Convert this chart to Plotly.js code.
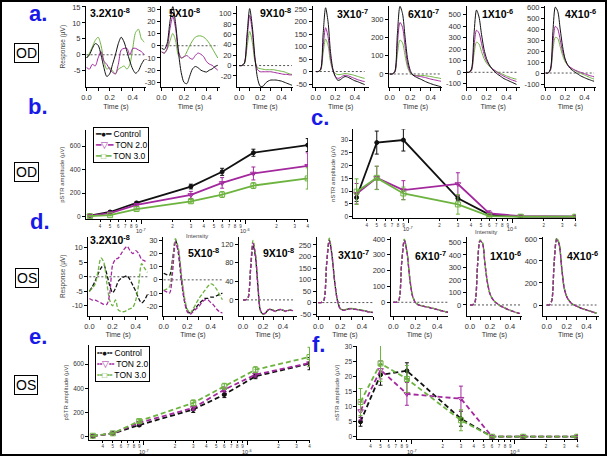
<!DOCTYPE html>
<html><head><meta charset="utf-8">
<script src="https://cdn.plot.ly/plotly-3.0.1.min.js"></script>
<style>html,body{margin:0;padding:0;background:#fff}#chart{width:608px;height:457px}</style>
</head><body><div id="chart"></div>
<script>
// ---------------- DATA ----------------
const timeS = [0,0.025,0.05,0.075,0.1,0.125,0.15,0.175,0.2,0.225,0.25,0.275,0.3,0.325,0.35,0.375,0.4,0.425,0.45,0.475,0.5];
const groups = ['Control','TON 2.0','TON 3.0'];
const stimLabels = ['3.2X10<sup>-8</sup>','5X10<sup>-8</sup>','9X10<sup>-8</sup>','3X10<sup>-7</sup>','6X10<sup>-7</sup>','1X10<sup>-6</sup>','4X10<sup>-6</sup>'];
const intensity = [3.2e-8,5e-8,9e-8,3e-7,6e-7,1.2e-6,4e-6];

// OD responses (µV), one row per stimulus intensity
const odCtrl = [
 [-1,0,2,3.5,3,0,-4,-6.8,-6,-3,0,3.5,5.5,4,1,-2,-4.5,-5.8,-5,-3,-1.5],
 [-2,-3,2,20,32,18,-5,-22,-30,-31,-25,-19,-17,-18,-20,-21,-21.5,-20,-19,-17,-16],
 [0,0,5,60,110,75,15,-25,-40,-40,-34,-30,-28,-28,-28,-29,-30,-32,-34,-36,-38],
 [0,0,10,150,255,200,80,10,-20,-35,-33,-25,-20,-22,-27,-32,-37,-40,-44,-48,-52],
 [0,0,15,220,370,330,200,80,20,-5,-15,-22,-28,-35,-42,-48,-53,-58,-62,-66,-70],
 [0,0,30,330,540,480,330,200,120,70,35,10,-10,-25,-40,-55,-65,-75,-85,-95,-105],
 [0,0,40,380,600,560,400,240,130,75,45,25,10,-5,-20,-32,-42,-52,-60,-68,-75]
];
const odTon2 = [
 [-4,-4.5,-3,-3.5,-1,1,-2,-3,-4.5,-5.5,-6,-3,1.5,2,2,0,2,2,1.5,1,0],
 [-5,-6,-2,14,24,14,-4,-10,-9,-8,-10,-11,-8,-6,-7,-9,-13,-15,-16,-18,-20],
 [0,0,5,50,97,65,12,-8,-12,-12,-12,-12,-12,-13,-14,-15,-16,-17,-17,-18,-18],
 [0,0,8,100,175,140,55,5,-20,-27,-25,-18,-15,-16,-20,-24,-28,-32,-35,-38,-40],
 [0,0,10,165,282,255,150,55,10,-5,-10,-12,-14,-17,-20,-24,-28,-31,-34,-37,-40],
 [0,0,20,220,365,340,250,160,100,65,40,20,5,-10,-22,-35,-45,-55,-65,-72,-80],
 [0,0,30,270,425,400,300,195,125,80,55,40,28,18,10,2,-6,-14,-22,-28,-35]
];
const odTon3 = [
 [-1,0.5,2.5,4.5,5.5,3,-2,-4.5,-4,-5,-6,-4.5,-4,-3.5,-4.5,-3,2,7,8,5,4],
 [-5,-6,-3,4,10,4,-8,-10,-9,-5,0,4,7,8,8,7,5,2,-2,-6,-10],
 [0,0,3,35,66,45,8,-4,-6,-7,-8,-8,-8,-8,-9,-10,-11,-12,-14,-16,-17],
 [0,0,5,75,130,105,40,5,-8,-12,-12,-10,-8,-9,-11,-13,-16,-19,-22,-25,-27],
 [0,0,8,110,186,170,100,35,5,-5,-8,-8,-8,-8,-10,-12,-14,-17,-20,-22,-25],
 [0,0,15,160,262,245,180,120,80,55,35,20,8,-3,-12,-22,-32,-40,-48,-55,-60],
 [0,0,25,210,325,315,240,160,105,75,55,38,25,12,2,-8,-18,-28,-38,-47,-55]
];

// OS responses (µV)
const osCtrl = [
 [-5,-3.5,-1.5,1,3,4,1,-3,-5.5,-4,-1.5,-0.5,0,0.3,-1,-3,-5,-7.5,-9,-8,-6],
 [5,4,3.5,15,30,20,0,-15,-23,-25,-23,-21,-18,-16,-14,-14,-13,-13,-12,-11,-10],
 [0,0,4,62,118,92,25,-24,-30,-28,-22,-21,-22,-24,-22,-21,-22,-24,-23,-22,-23],
 [0,0,9,165,272,205,88,9,-26,-33,-31,-27,-26,-28,-30,-32,-34,-36,-39,-41,-43],
 [0,0,13,245,395,315,148,39,-1,-15,-21,-25,-29,-33,-37,-41,-46,-51,-55,-60,-63],
 [0,0,24,315,515,495,325,178,88,48,24,9,-6,-16,-26,-35,-43,-50,-57,-63,-68],
 [0,0,38,390,600,555,345,158,79,39,14,0,-10,-20,-30,-38,-45,-52,-60,-67,-73]
];
const osTon2 = [
 [-7.5,-8,-8,-8.5,-9,-9.5,-9.5,-6,4,6,6.5,8,9.5,10.5,9,8,9,8,6,5.5,5],
 [-8,-9,-10,5,28,22,2,-15,-24,-26,-24,-22,-20,-17,-15,-15,-17,-19,-22,-24,-25],
 [0,0,4,65,122,95,28,-22,-30,-28,-22,-20,-23,-24,-21,-21,-23,-24,-22,-22,-23],
 [0,0,8,160,268,200,85,8,-27,-34,-32,-28,-27,-29,-31,-33,-35,-37,-40,-42,-44],
 [0,0,12,240,390,310,145,38,-2,-16,-22,-26,-30,-34,-38,-42,-47,-52,-56,-60,-64],
 [0,0,24,310,510,490,322,176,87,48,24,9,-6,-16,-26,-35,-43,-50,-57,-63,-68],
 [0,0,35,380,590,545,340,155,78,38,14,0,-10,-20,-30,-38,-45,-52,-60,-67,-73]
];
const osTon3 = [
 [-5,-4,-2.5,2,6.5,5,-2,-8,-10,-8,-11.5,-12,-12,-11.5,-11,-10.5,-8,-2.5,4.5,3,1.5],
 [-8,-7,-5,12,31,24,5,-12,-22,-25,-22,-18,-14,-11,-8,-5,-3,-4,-7,-11,-15],
 [0,0,5,70,128,100,30,-25,-31,-29,-22,-20,-22,-25,-22,-20,-22,-25,-23,-22,-24],
 [0,0,10,170,280,210,90,10,-25,-32,-30,-26,-25,-27,-30,-32,-33,-35,-38,-40,-42],
 [0,0,15,250,400,320,150,40,0,-15,-20,-25,-28,-32,-36,-40,-45,-50,-55,-60,-63],
 [0,0,25,320,520,500,330,180,90,50,25,10,-5,-15,-25,-35,-42,-50,-57,-63,-68],
 [0,0,40,400,610,560,350,160,80,40,15,0,-10,-20,-30,-38,-45,-52,-60,-67,-73]
];

// amplitudes vs intensity
const pstrOdCtrl = [9,40,117,256,381,543,608],  pstrOdCtrlErr = [5,8,10,20,30,30,55];
const pstrOdTon2 = [8,30,100,185,287,367,432],  pstrOdTon2Err = [5,8,12,30,45,55,110];
const pstrOdTon3 = [5,13,65,131,188,264,325],   pstrOdTon3Err = [5,6,8,15,25,25,90];
const nstrOdCtrl = [7.5,29,30,7.2,0.8,0,0],     nstrOdCtrlErr = [1.5,4.5,4.3,1,0.5,0,0];
const nstrOdTon2 = [9,15.2,10.4,12.8,1.3,0.2,0], nstrOdTon2Err = [4,4.5,3.7,4.4,1,0.2,0];
const nstrOdTon3 = [9.8,15.2,9.1,4.8,0.2,0,0],  nstrOdTon3Err = [5,4.6,2.5,3.8,0.3,0,0];
const pstrOsCtrl = [5,27,96,225,348,499,603],   pstrOsCtrlErr = [3,5,10,25,25,20,50];
const pstrOsTon2 = [5,27,115,238,389,512,608],  pstrOsTon2Err = [3,5,10,20,20,20,30];
const pstrOsTon3 = [8,28,129,279,416,553,658],  pstrOsTon3Err = [3,5,12,25,25,25,80];
const nstrOsCtrl = [5,20.7,22,6,0,0,0],         nstrOsCtrlErr = [1.5,3.5,2.7,2.5,0,0,0];
const nstrOsTon2 = [8.6,22.3,14.3,12.7,0,0,0],  nstrOsTon2Err = [3,3,3.8,4.2,0,0,0];
const nstrOsTon3 = [11.6,24.5,19.3,5.5,0,0,0],  nstrOsTon3Err = [4.5,6,4.5,3.5,0,0,0];

// tick labels
const odYTicks = [[-5,0,5,10,15],[-30,-20,-10,0,10,20,30],[-20,0,20,40,60,80,100],[-50,0,50,100,150,200,250],[0,100,200,300],[-100,0,100,200,300,400,500],[-100,0,100,200,300,400,500,600]];
const osYTicks = [[-10,-5,0,5,10],[-20,-10,0,10,20,30],[0,40,80,120],[-50,0,50,100,150,200,250],[0,100,200,300,400],[0,100,200,300,400,500],[0,200,400,600]];
const intTickVals = [4e-8,5e-8,6e-8,7e-8,8e-8,9e-8,2e-7,3e-7,4e-7,5e-7,6e-7,7e-7,8e-7,9e-7,2e-6,3e-6,4e-6];
const intTickText = ['4','5','6','7','8','9','2','3','4','5','6','7','8','9','2','3','4'];
const decadeVals = [1e-7,1e-6];
const decadeText = ['10<sup>-7</sup>','10<sup>-6</sup>'];
const pstrTicks = [0,200,400,600];
const nstrTicks = [0,5,10,15,20,25,30];

// ---------------- LAYOUT ----------------
const W = 608, H = 457;
const fam = '"Liberation Sans", Arial, sans-serif';
const COL = ['#111111','#a3289e','#6db33f'];
const BLUE = '#1a1ae8';

const rowAX  = [[86,146],[161,220],[237,293],[312.5,369],[389,442],[466.5,520],[545,596]];
const rowAXR = [[-0.005,0.515],[-0.005,0.52],[-0.02,0.51],[-0.034,0.545],[-0.007,0.51],[0,0.535],[-0.007,0.52]];
const rowAYR = [[-10.2,15.3],[-34,32.5],[-42,115],[-63,262],[-73,372],[-130,575],[-130,610]];
const rowATitle = [[110,12.5],[184,12.5],[275,12.5],[352,13],[424,13],[497,13],[580,13]];
const rowDX  = [[88.3,148],[163,223],[239,297],[316.7,373],[390.7,448],[466.7,522],[542.7,598.5]];
const rowDXR = [[-0.009,0.505],[-0.006,0.505],[-0.04,0.54],[-0.015,0.5],[-0.024,0.497],[-0.033,0.52],[-0.04,0.52]];
const rowDYR = [[-13.4,13.8],[-27,32.5],[-34,136],[-57,286],[-85,415],[-86,546],[-97,620]];
const rowDTitle = [[110,240],[203.5,252],[278,253],[353.5,254],[430,255],[505,255],[582.5,255]];

const layout = {width:W,height:H,margin:{l:0,r:0,t:0,b:0},paper_bgcolor:'#fff',plot_bgcolor:'rgba(0,0,0,0)',
  showlegend:false,font:{family:fam,size:7,color:'#333'},annotations:[],shapes:[]};
const data = [];

function xdom(p){return [p[0]/W,p[1]/W];}
function ydom(t,b){return [1-b/H,1-t/H];}
function baseAxis(fs){return {showline:true,linecolor:'#000',linewidth:1,ticks:'outside',ticklen:3,tickwidth:1,tickcolor:'#000',
  showgrid:false,zeroline:false,fixedrange:true,tickfont:{size:fs,family:fam,color:'#333'}};}
function addAxes(i,xp,yp,xopt,yopt,fs){
  const s = i===1?'':String(i);
  layout['xaxis'+s] = Object.assign(baseAxis(fs),{domain:xdom(xp),anchor:'y'+s},xopt);
  layout['yaxis'+s] = Object.assign(baseAxis(fs),{domain:ydom(yp[0],yp[1]),anchor:'x'+s},yopt);
  return s;
}
function ann(px,py,text,font,extra){
  layout.annotations.push(Object.assign({x:px/W,y:1-py/H,xref:'paper',yref:'paper',text:text,showarrow:false,
    xanchor:'center',yanchor:'middle',font:Object.assign({family:fam},font)},extra||{}));
}

function wavePanel(i,k,xp,yp,xr,yr,yticks,sets,dashed,titlePos,ytitle){
  const yopt = {range:yr,tickmode:'array',tickvals:yticks,ticktext:yticks.map(String)};
  if(ytitle) yopt.title = {text:ytitle,font:{size:6.5,color:'#444'},standoff:5};
  const s = addAxes(i,xp,yp,
    {range:xr,tickmode:'linear',tick0:0,dtick:0.2,tickformat:'.1f',
     minor:{tick0:0,dtick:0.1,ticks:'outside',ticklen:3,tickwidth:1,tickcolor:'#000'},
     title:{text:'Time (s)',font:{size:7,color:'#333'},standoff:2}},yopt,7.5);
  layout.shapes.push({type:'line',xref:'x'+s,yref:'y'+s,x0:0,x1:0.5,y0:0,y1:0,layer:'below',line:{color:'#555',width:1,dash:'2px,2px'}});
  const order = dashed ? [0,2,1] : [2,1,0];
  order.forEach(g=>{
    data.push({x:timeS,y:sets[g][k],xaxis:'x'+s,yaxis:'y'+s,mode:'lines',name:groups[g],hoverinfo:'skip',
      line:{color:COL[g],width:dashed?1.3:1,shape:'spline',smoothing:0.8,dash:dashed?'4px,2px':'solid'}});
  });
  ann(titlePos[0],titlePos[1],stimLabels[k],{size:10.5,color:'#000',weight:'bold'});
}

for(let k=0;k<7;k++){
  wavePanel(k+1,k,rowAX[k],[6,87.3],rowAXR[k],rowAYR[k],odYTicks[k],[odCtrl,odTon2,odTon3],false,rowATitle[k],k===0?'Response (µV)':null);
  wavePanel(k+10,k,rowDX[k],[236.7,315.7],rowDXR[k],rowDYR[k],osYTicks[k],[osCtrl,osTon2,osTon3],true,rowDTitle[k],k===0?'Response (µV)':null);
}

const symbols = ['circle','triangle-down-open','square-open'];
function ampPanel(i,xp,yp,xr,yr,yticks,ytitle,series,dashed,decadeY){
  const s = addAxes(i,xp,yp,
    {type:'log',range:xr,tickmode:'array',tickvals:intTickVals,ticktext:intTickText,ticklen:2,tickfont:{size:4.5,family:fam,color:'#333'},
     minor:{tickmode:'array',tickvals:decadeVals,ticks:'outside',ticklen:4,tickwidth:1,tickcolor:'#000'}},
    {range:yr,tickmode:'array',tickvals:yticks,ticktext:yticks.map(String),tickfont:{size:6.5,family:fam,color:'#333'},
     title:{text:ytitle,font:{size:6,color:'#444'},standoff:4}},6.5);
  series.forEach((sr,g)=>{
    data.push({x:intensity,y:sr[0],xaxis:'x'+s,yaxis:'y'+s,mode:'lines+markers',name:groups[g],hoverinfo:'skip',
      line:{color:COL[g],width:1.8,dash:dashed?'5px,3px':'solid'},
      marker:{symbol:symbols[g],size:g===0?4:5,color:COL[g],line:{color:COL[g],width:1}},
      error_y:{type:'data',array:sr[1],visible:true,color:COL[g],thickness:1,width:2}});
  });
  decadeVals.forEach((v,j)=>{
    layout.annotations.push({x:Math.log10(v),xref:'x'+s,y:1-decadeY/H,yref:'paper',text:decadeText[j],showarrow:false,
      xanchor:'center',yanchor:'middle',font:{family:fam,size:5.5,color:'#333'}});
  });
}
ampPanel(8,[86,308],[130,219.3],[-7.533,-5.395],[-22,736],pstrTicks,'pSTR amplitude (µV)',
  [[pstrOdCtrl,pstrOdCtrlErr],[pstrOdTon2,pstrOdTon2Err],[pstrOdTon3,pstrOdTon3Err]],false,230.5);
ampPanel(9,[353.3,575.5],[129.3,218.3],[-7.526,-5.395],[-0.63,34.2],nstrTicks,'nSTR amplitude (µV)',
  [[nstrOdCtrl,nstrOdCtrlErr],[nstrOdTon2,nstrOdTon2Err],[nstrOdTon3,nstrOdTon3Err]],false,229.5);
ampPanel(17,[89.3,310],[345,440],[-7.529,-5.393],[-27,757],pstrTicks,'pSTR amplitude (µV)',
  [[pstrOsCtrl,pstrOsCtrlErr],[pstrOsTon2,pstrOsTon2Err],[pstrOsTon3,pstrOsTon3Err]],true,451.5);
ampPanel(18,[357.3,578],[346,439.3],[-7.526,-5.39],[-0.86,30.3],nstrTicks,'nSTR amplitude (µV)',
  [[nstrOsCtrl,nstrOsCtrlErr],[nstrOsTon2,nstrOsTon2Err],[nstrOsTon3,nstrOsTon3Err]],true,451.5);

// x titles for b, c
ann(197,236,'Intensity',{size:6,color:'#444'});
ann(486,232,'Intensity',{size:6,color:'#444'});

// legends (text glyph keys)
function legendText(glyph){
  const marks=['●','▽','□'];
  return groups.map((g,j)=>`<span style="color:${COL[j]}">${glyph}${marks[j]}${glyph}</span> ${g}`).join('<br>');
}
ann(93,127,legendText('━'),{size:8.5,color:'#000'},{xanchor:'left',yanchor:'top',align:'left',bordercolor:'#000',borderwidth:1,borderpad:1,bgcolor:'#fff'});
ann(95,346,legendText('╍'),{size:8.5,color:'#000'},{xanchor:'left',yanchor:'top',align:'left',bordercolor:'#000',borderwidth:1,borderpad:1,bgcolor:'#fff'});

// panel letters
const boldL = {size:22,color:BLUE,weight:'bold'};
ann(38,14,'a.',boldL); ann(38,106,'b.',boldL); ann(320,117,'c.',boldL);
ann(40,221,'d.',boldL); ann(38,336,'e.',boldL); ann(318,344,'f.',boldL);
// eye boxes
const boxOpt = {bordercolor:'#000',borderwidth:1,borderpad:1,bgcolor:'#fff'};
ann(26.5,52.5,'OD',{size:14,color:'#000'},boxOpt);
ann(26,172,'OD',{size:14,color:'#000'},boxOpt);
ann(27,277.5,'OS',{size:14,color:'#000'},boxOpt);
ann(26,384.5,'OS',{size:14,color:'#000'},boxOpt);

// outer frame
layout.shapes.push({type:'rect',xref:'paper',yref:'paper',x0:1/W,x1:606/W,y0:1-455/H,y1:1-1/H,line:{color:'#000',width:2}});

Plotly.newPlot('chart',data,layout,{staticPlot:true,displayModeBar:false});
</script></body></html>
